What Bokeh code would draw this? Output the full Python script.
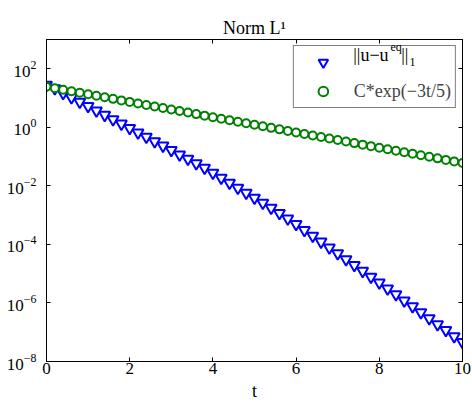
from bokeh.plotting import figure
from bokeh.models import (Range1d, LinearAxis, LogAxis, FixedTicker, Legend, LegendItem,
                          Label, CustomJSTickFormatter)
from bokeh.core.properties import value
from bokeh.embed import file_html
from bokeh.resources import INLINE

FONT = "Liberation Serif"

# ---- data ----
t = [0.0, 0.2, 0.4, 0.6, 0.8, 1.0, 1.2, 1.4, 1.6, 1.8,
     2.0, 2.2, 2.4, 2.6, 2.8, 3.0, 3.2, 3.4, 3.6, 3.8,
     4.0, 4.2, 4.4, 4.6, 4.8, 5.0, 5.2, 5.4, 5.6, 5.8,
     6.0, 6.2, 6.4, 6.6, 6.8, 7.0, 7.2, 7.4, 7.6, 7.8,
     8.0, 8.2, 8.4, 8.6, 8.8, 9.0, 9.2, 9.4, 9.6, 9.8, 10.0]

norm_l1 = [28.2, 21.4, 14.8, 10.5, 7.41, 5.25, 3.72, 2.63, 1.86, 1.32,
           0.933, 0.661, 0.468, 0.331, 0.234, 0.166, 0.117, 0.0832, 0.0589, 0.0407,
           0.0275, 0.0186, 0.0126, 8.51e-3, 5.75e-3, 3.89e-3, 2.63e-3, 1.78e-3, 1.17e-3, 7.59e-4,
           4.90e-4, 3.09e-4, 1.95e-4, 1.23e-4, 7.76e-5, 4.90e-5, 3.09e-5, 1.95e-5, 1.23e-5, 7.76e-6,
           4.90e-6, 3.09e-6, 1.95e-6, 1.20e-6, 7.59e-7, 4.79e-7, 2.95e-7, 1.86e-7, 1.17e-7, 7.24e-8,
           4.57e-8]

c_exp = [24.5, 21.73, 19.27, 17.09, 15.16, 13.45, 11.93, 10.58, 9.38, 8.32,
         7.38, 6.545, 5.805, 5.149, 4.566, 4.050, 3.592, 3.186, 2.826, 2.506,
         2.223, 1.971, 1.748, 1.551, 1.375, 1.220, 1.082, 0.9597, 0.8511, 0.7549,
         0.6695, 0.5938, 0.5266, 0.4671, 0.4143, 0.3674, 0.3259, 0.2890, 0.2563, 0.2273,
         0.2016, 0.1788, 0.1586, 0.1407, 0.1248, 0.1107, 0.09815, 0.08705, 0.07721, 0.06848,
         0.06073]

x_ticks = [0, 2, 4, 6, 8, 10]
y_ticks = [1e2, 1e0, 1e-2, 1e-4, 1e-6, 1e-8]

title_text = "Norm L\u00b9"
series1_parts = ["||u\u2212u", "eq", "||", "1"]
series2_label = "C*exp(\u22123t/5)"
x_label = "t"

# ---- figure ----
p = figure(width=472, height=403, output_backend="svg", toolbar_location=None,
           x_range=Range1d(0, 10), y_range=Range1d(1e-8, 1e3), y_axis_type="log",
           min_border_left=46, min_border_right=10, min_border_top=39, min_border_bottom=42)
p.outline_line_color = "black"
p.outline_line_width = 1
p.xgrid.visible = False
p.ygrid.visible = False
p.background_fill_color = "white"
p.border_fill_color = "white"

p.title.text = title_text
p.title.text_font = FONT
p.title.text_font_size = "18px"
p.title.text_font_style = "normal"
p.title.text_color = "black"
p.title.align = "center"
p.title.standoff = 4

blue = p.scatter(t, norm_l1, marker="inverted_triangle", size=11,
                 line_color="#0000ff", line_width=2, fill_color="white")
green = p.scatter(t, c_exp, marker="circle", size=8,
                  line_color="#008000", line_width=2, fill_color="white")

blank = CustomJSTickFormatter(code="return '';")

def style_axis(ax, show_labels):
    ax.axis_line_color = "black"
    ax.major_tick_line_color = "black"
    ax.major_tick_in = 4
    ax.major_tick_out = 0
    ax.minor_tick_in = 0
    ax.minor_tick_out = 0
    ax.minor_tick_line_color = None
    if show_labels:
        ax.major_label_text_font = FONT
        ax.major_label_text_font_size = "17px"
        ax.major_label_text_color = "black"
    else:
        ax.formatter = blank
        ax.major_label_standoff = 0
        ax.major_label_text_color = None

# bottom axis
xa = p.xaxis[0]
xa.ticker = FixedTicker(ticks=x_ticks)
style_axis(xa, True)
xa.major_label_standoff = 1
xa.axis_label = x_label
xa.axis_label_text_font = FONT
xa.axis_label_text_font_size = "18px"
xa.axis_label_text_font_style = "normal"
xa.axis_label_text_color = "black"
xa.axis_label_standoff = 4

# left axis: 10^k labels
ya = p.yaxis[0]
ya.ticker = FixedTicker(ticks=y_ticks)
style_axis(ya, True)
ya.major_label_standoff = 10

top = LinearAxis(ticker=FixedTicker(ticks=x_ticks))
style_axis(top, False)
p.add_layout(top, "above")

right = LogAxis(ticker=FixedTicker(ticks=y_ticks))
style_axis(right, False)
p.add_layout(right, "right")

# legend (transparent inside so the first entry's composed text shows)
legend = Legend(items=[LegendItem(label=value(" "), renderers=[blue]),
                       LegendItem(label=value(series2_label), renderers=[green])],
                location="top_right", margin=6, padding=4, spacing=5,
                glyph_width=50, glyph_height=24, label_height=24, label_standoff=6,
                label_text_font=FONT, label_text_font_size="18px",
                border_line_color="black", border_line_width=1,
                background_fill_alpha=0.0)
p.add_layout(legend)

# first legend entry text: ||u-u^eq||_1 (screen units relative to the frame)
sizes = ["18px", "12px", "18px", "12px"]
xs = [306.7, 344.0, 354.7, 363.0]
ys = [306.5, 315.0, 306.5, 299.5]
for txt, fs, sx, sy in zip(series1_parts, sizes, xs, ys):
    p.add_layout(Label(x=sx, y=sy, x_units="screen", y_units="screen", text=txt,
                       text_align="left", text_baseline="alphabetic",
                       text_font=FONT, text_font_size=fs, text_color="black"))

open("out.html", "w").write(file_html(p, INLINE))
